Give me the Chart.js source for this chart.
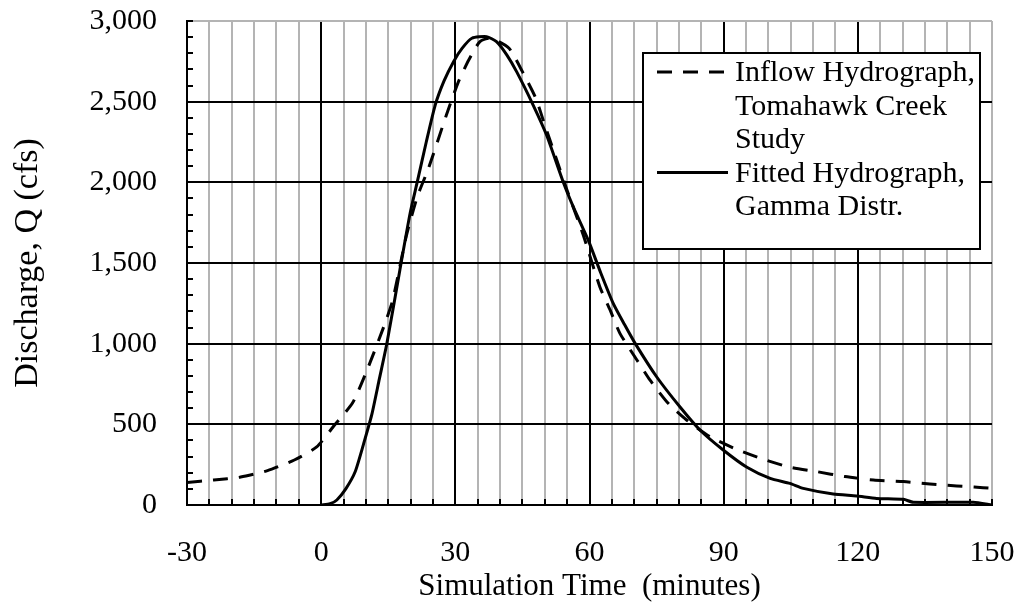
<!DOCTYPE html>
<html>
<head>
<meta charset="utf-8">
<title>Hydrograph</title>
<script src="https://cdn.jsdelivr.net/npm/chart.js@4.4.1/dist/chart.umd.min.js"></script>
<style>
  html, body { margin: 0; padding: 0; background: #fff; }
  #wrap { width: 1025px; height: 609px; position: relative; }
</style>
</head>
<body>
<div id="wrap"><canvas id="chart"></canvas></div>
<script>
// Inflow hydrograph from the Tomahawk Creek study (dashed)
const inflowTime = [-30, -24, -18, -12, -6, -1, 3, 7, 10, 14, 16, 19, 21.5, 24, 28, 30.7, 33, 35.5, 38,
  42, 45, 48, 50, 52.3, 55, 58.6, 62.3, 64.6, 66.8, 70.6, 73.5, 77.6, 81.7, 86.9, 92.9, 98.9, 104.8,
  110.8, 117.1, 123.5, 130.2, 136.1, 142.1, 146, 150];
const inflowQ = [140, 155, 173, 213, 279, 360, 496, 632, 818, 1105, 1270, 1663, 1911, 2087, 2417, 2624, 2758, 2872, 2893,
  2831, 2686, 2521, 2355, 2169, 1950, 1674, 1353, 1209, 1064, 899, 775, 630, 527, 424, 345, 283, 234,
  207, 176, 155, 145, 130, 118, 112, 103];

// Fitted hydrograph, gamma distribution (solid)
const fittedTime = [0, 2, 3.5, 5.5, 7.6, 9.5, 11.3, 13, 14.7, 17.6, 19.9, 21.5, 23.5, 25.5, 27.5, 29.6, 31.5, 33.7,
  37, 39.2, 41.5, 43.7, 47.4, 50.4, 54.1, 56.5, 59.7, 62.5, 65.3, 67.8, 70.2, 75, 80.2, 84.7, 89.9, 95.2,
  100.4, 104.8, 107.8, 114.5, 119.7, 124.2, 130.2, 132.4, 145.8, 150];
const fittedQ = [0, 8, 31, 100, 206, 380, 558, 780, 1002, 1457, 1810, 2004, 2250, 2479, 2630, 2748, 2830, 2893,
  2903, 2872, 2790, 2686, 2479, 2293, 2004, 1840, 1643, 1440, 1250, 1120, 1002, 795, 609, 465, 341, 234,
  165, 134, 103, 68, 56, 41, 35, 17, 17, 0];

const xLabels = [-30, 0, 30, 60, 90, 120, 150];
const yLabels = [0, 500, 1000, 1500, 2000, 2500, 3000];
const inflowLegend = ["Inflow Hydrograph,", "Tomahawk Creek", "Study"];
const fittedLegend = ["Fitted Hydrograph,", "Gamma Distr."];

const FONT = "'Liberation Serif', 'Times New Roman', serif";
const GRAY = '#b4b4b4';
const NONE = 'rgba(0,0,0,0)';

function toPoints(xs, ys) {
  return xs.map((t, i) => ({ x: t, y: ys[i] }));
}

// short inward ticks along the left and bottom axes
const minorTicks = {
  id: 'minorTicks',
  afterDatasetsDraw(chart) {
    const { ctx, chartArea: a, scales: { x, y } } = chart;
    ctx.save();
    ctx.strokeStyle = '#000';
    ctx.lineWidth = 2;
    ctx.beginPath();
    x.ticks.forEach(t => {
      const px = Math.round(x.getPixelForValue(t.value));
      ctx.moveTo(px, a.bottom);
      ctx.lineTo(px, a.bottom - 6);
    });
    y.ticks.forEach(t => {
      const py = Math.round(y.getPixelForValue(t.value));
      ctx.moveTo(a.left, py);
      ctx.lineTo(a.left + 6, py);
    });
    ctx.stroke();
    ctx.restore();
  }
};

// boxed legend with wrapped labels
const boxLegend = {
  id: 'boxLegend',
  afterDatasetsDraw(chart) {
    const { ctx, chartArea: a } = chart;
    const left = a.right - 349, top = a.top + 32, w = 337, h = 196;
    const lineH = 33.5;
    ctx.save();
    ctx.fillStyle = '#fff';
    ctx.fillRect(left, top, w, h);
    ctx.strokeStyle = '#000';
    ctx.lineWidth = 2;
    ctx.strokeRect(left, top, w, h);

    ctx.font = '30px ' + FONT;
    ctx.fillStyle = '#000';
    ctx.textBaseline = 'alphabetic';
    let base = top + 28;
    chart.data.datasets.forEach(ds => {
      ctx.beginPath();
      ctx.setLineDash(ds.borderDash || []);
      ctx.lineWidth = ds.borderWidth;
      ctx.moveTo(left + 14, base - 9);
      ctx.lineTo(left + 85, base - 9);
      ctx.stroke();
      ctx.setLineDash([]);
      ds.legendLines.forEach((line, i) => {
        ctx.fillText(line, left + 92, base + i * lineH);
      });
      base += ds.legendLines.length * lineH;
    });
    ctx.restore();
  }
};

new Chart(document.getElementById('chart'), {
  type: 'line',
  data: {
    datasets: [
      {
        label: inflowLegend.join(' '),
        legendLines: inflowLegend,
        data: toPoints(inflowTime, inflowQ),
        borderColor: '#000',
        borderWidth: 3,
        borderDash: [15, 11],
        pointRadius: 0,
        tension: 0.2,
        fill: false
      },
      {
        label: fittedLegend.join(' '),
        legendLines: fittedLegend,
        data: toPoints(fittedTime, fittedQ),
        borderColor: '#000',
        borderWidth: 3,
        pointRadius: 0,
        tension: 0.2,
        fill: false
      }
    ]
  },
  options: {
    responsive: true,
    maintainAspectRatio: false,
    animation: false,
    layout: { padding: { left: 0, right: 33, top: 21, bottom: 0 } },
    plugins: {
      legend: { display: false },
      tooltip: { enabled: false }
    },
    scales: {
      x: {
        type: 'linear',
        min: -30,
        max: 150,
        afterFit(s) { s.height = 104; },
        ticks: {
          stepSize: 5,
          autoSkip: false,
          maxRotation: 0,
          padding: 2,
          color: '#000',
          font: { family: FONT, size: 30 },
          callback: v => xLabels.includes(Math.round(v)) ? String(Math.round(v)) : ''
        },
        grid: {
          drawTicks: true,
          tickLength: 28,
          tickColor: NONE,
          lineWidth: 2,
          color: c => {
            const v = Math.round(c.tick.value);
            if (v === 150) return GRAY;
            return v % 30 === 0 ? '#000' : GRAY;
          }
        },
        border: { color: '#000', width: 2 },
        title: {
          display: true,
          text: 'Simulation Time  (minutes)',
          color: '#000',
          font: { family: FONT, size: 31 },
          padding: { top: 0, bottom: 4 }
        }
      },
      y: {
        min: 0,
        max: 3000,
        afterFit(s) { s.width = 187; },
        ticks: {
          stepSize: 100,
          autoSkip: false,
          padding: 2,
          color: '#000',
          font: { family: FONT, size: 30 },
          callback: v => yLabels.includes(Math.round(v)) ? Math.round(v).toLocaleString('en-US') : ''
        },
        grid: {
          drawTicks: true,
          tickLength: 28,
          tickColor: NONE,
          lineWidth: 2,
          color: c => {
            const v = Math.round(c.tick.value);
            if (v === 3000) return GRAY;
            return v % 500 === 0 ? '#000' : NONE;
          }
        },
        border: { color: '#000', width: 2 },
        title: {
          display: true,
          text: 'Discharge, Q (cfs)',
          color: '#000',
          font: { family: FONT, size: 34 },
          padding: { top: 8, bottom: 0 }
        }
      }
    }
  },
  plugins: [minorTicks, boxLegend]
});
</script>
</body>
</html>
